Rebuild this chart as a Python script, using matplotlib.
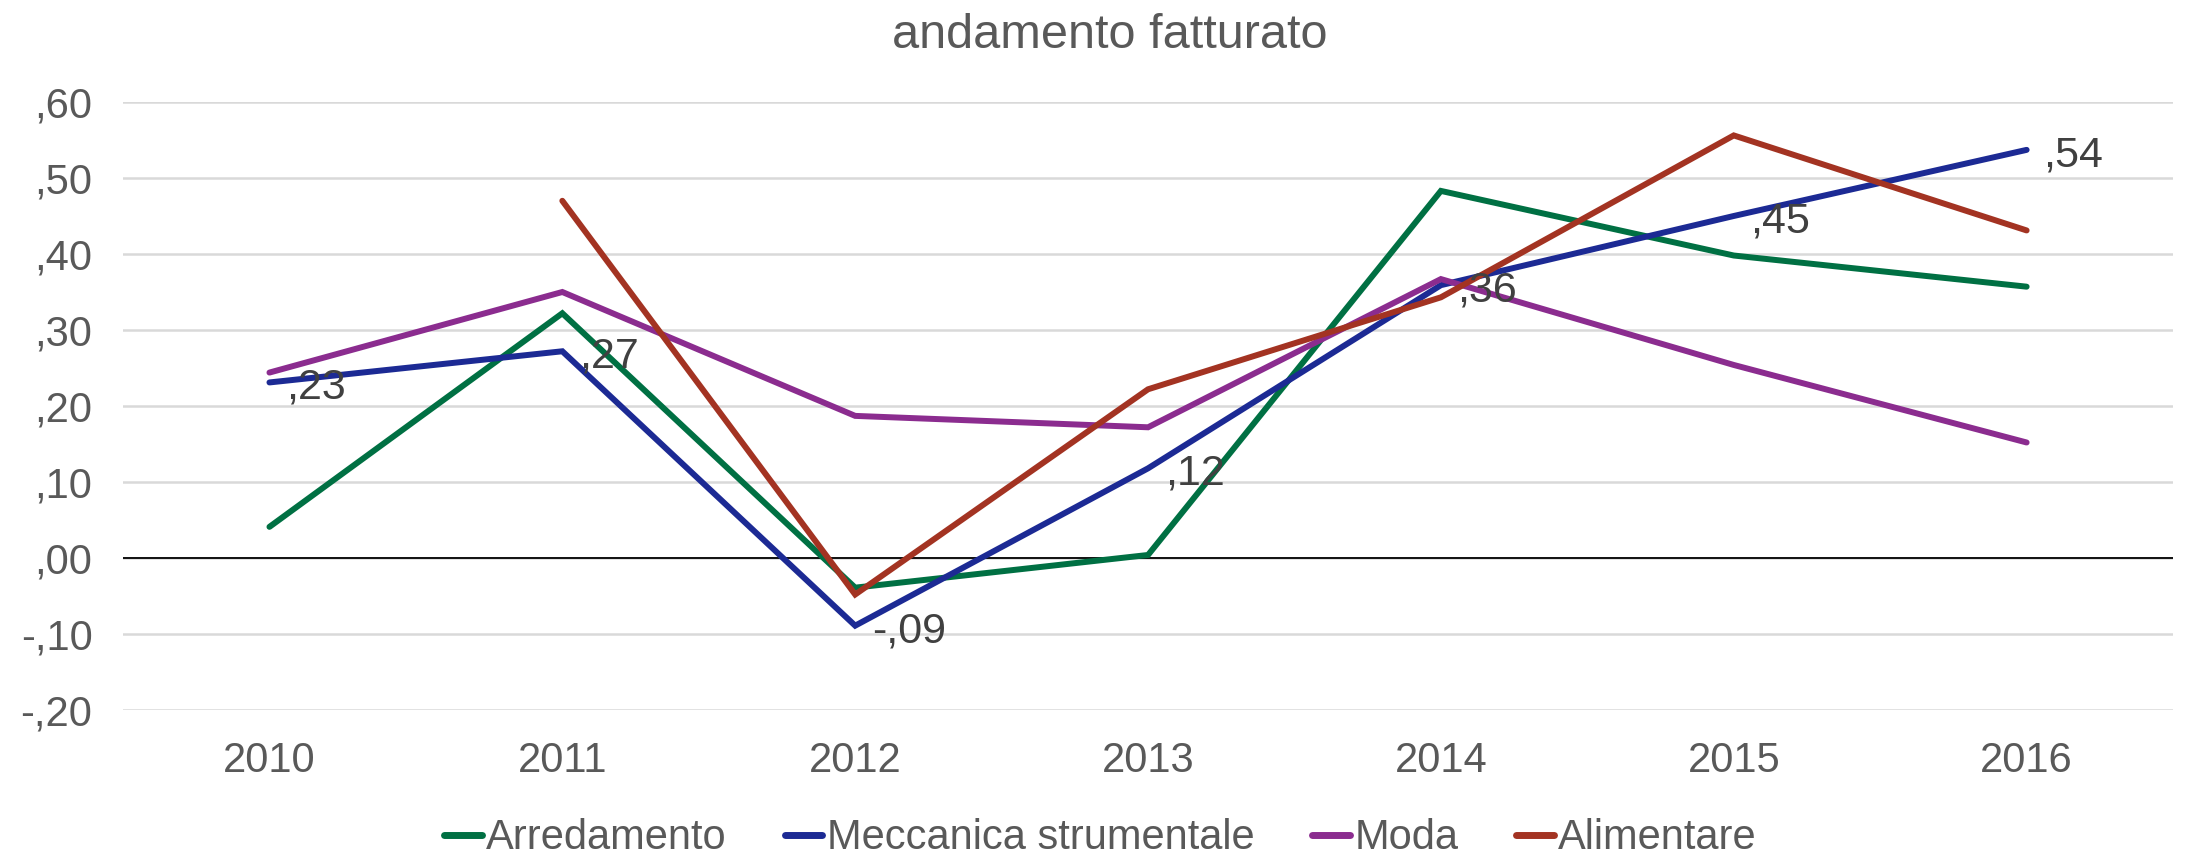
import numpy as np
import matplotlib.pyplot as plt
from matplotlib.ticker import FuncFormatter

plt.rcParams['font.family'] = ['Liberation Sans Narrow', 'Liberation Sans', 'DejaVu Sans']

anni = ['2010', '2011', '2012', '2013', '2014', '2015', '2016']
arredamento = [0.041, 0.322, -0.039, 0.004, 0.483, 0.398, 0.357]
meccanica = [0.231, 0.272, -0.089, 0.118, 0.359, 0.450, 0.537]
moda = [0.244, 0.350, 0.187, 0.172, 0.367, 0.254, 0.152]
alimentare = [np.nan, 0.470, -0.048, 0.222, 0.343, 0.556, 0.431]

serie = ['Arredamento', 'Meccanica strumentale', 'Moda', 'Alimentare']
colori = ['#007043', '#1C2A94', '#8B2C8F', '#A33322']

fig = plt.figure(figsize=(22.01, 8.57), dpi=100)
ax = fig.add_axes([0.0559, 0.1715, 0.9314, 0.7095])

x = np.arange(len(anni))
for nome, vals, col in zip(serie, [arredamento, meccanica, moda, alimentare], colori):
    ax.plot(x, vals, color=col, lw=4.3, label=nome, solid_capstyle='round', solid_joinstyle='miter')

# etichette solo per Meccanica strumentale
def fmt(v, pos=None):
    s = '%.2f' % v
    s = s.replace('0.', '.', 1).replace('.', ',')
    if s == '-,00':
        s = ',00'
    return s

for xi, v in zip(x, meccanica):
    ax.annotate(fmt(round(v, 2)), (xi, v), xytext=(12, -4), textcoords='offset points',
                ha='left', va='center', fontsize=31, color='#404040')

ax.axhline(0, color='black', lw=1.3, zorder=1.5)
ax.set_xlim(-0.5, 6.5)
ax.set_ylim(-0.2, 0.6)
ax.set_yticks(np.arange(-0.2, 0.61, 0.1))
ax.yaxis.set_major_formatter(FuncFormatter(fmt))
ax.set_xticks(x)
ax.set_xticklabels(anni)
ax.grid(axis='y', color='#D9D9D9', lw=1.8)
ax.set_axisbelow(True)
for s in ax.spines.values():
    s.set_visible(False)
ax.tick_params(length=0, labelsize=30, labelcolor='#595959')
ax.tick_params(axis='x', pad=22)
ax.tick_params(axis='y', pad=22)

fig.text(0.504, 0.958, 'andamento fatturato', ha='center', va='center', fontsize=35, color='#595959')

leg = fig.legend(loc='center', bbox_to_anchor=(0.5, 0.022), ncol=4, frameon=False, fontsize=30,
                 labelcolor='#595959', handlelength=0.9, handletextpad=0.1, columnspacing=1.4)
for h in leg.get_lines():
    h.set_linewidth(5)

fig.savefig('out.png', dpi=100)
